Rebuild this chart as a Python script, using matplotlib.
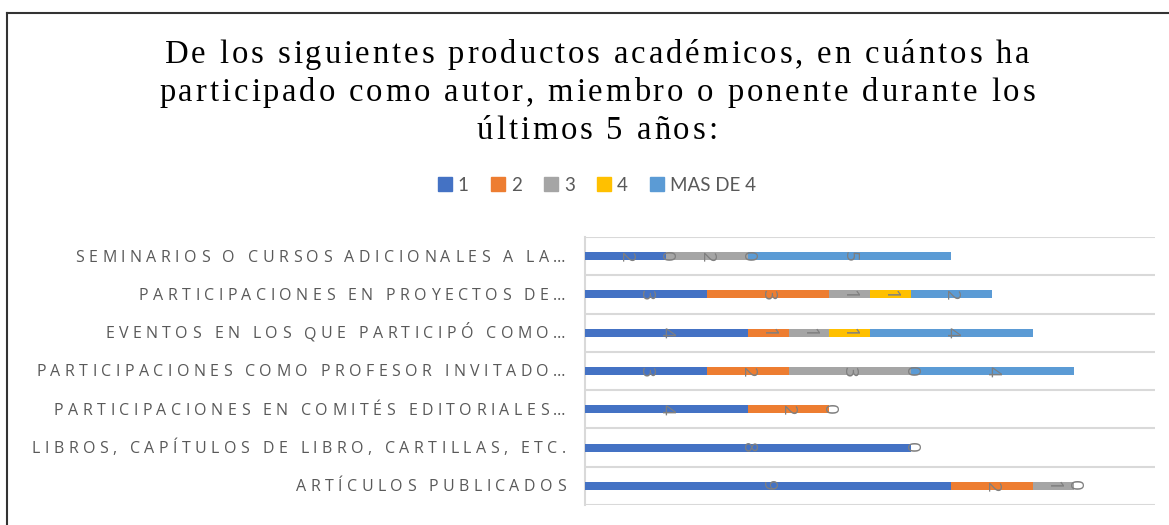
import matplotlib
matplotlib.use("Agg")
import matplotlib.pyplot as plt
from matplotlib.lines import Line2D
from matplotlib.font_manager import FontProperties, findfont, get_font
import numpy as np

categories = [
    "SEMINARIOS O CURSOS ADICIONALES A LA…",
    "PARTICIPACIONES EN PROYECTOS DE…",
    "EVENTOS EN LOS QUE PARTICIPÓ COMO…",
    "PARTICIPACIONES COMO PROFESOR INVITADO…",
    "PARTICIPACIONES EN COMITÉS EDITORIALES…",
    "LIBROS, CAPÍTULOS DE LIBRO, CARTILLAS, ETC.",
    "ARTÍCULOS PUBLICADOS",
]
series_names = ["1", "2", "3", "4", "MAS DE 4"]
s1 = [2, 3, 4, 3, 4, 8, 9]
s2 = [0, 3, 1, 2, 2, 0, 2]
s3 = [2, 1, 1, 3, 0, None, 1]
s4 = [0, 1, 1, 0, None, None, 0]
s5 = [5, 2, 4, 4, None, None, None]
series = [s1, s2, s3, s4, s5]
colors = ["#4472C4", "#ED7D31", "#A5A5A5", "#FFC000", "#5B9BD5"]

title_lines = [
    "De los siguientes productos académicos, en cuántos ha",
    "participado como autor, miembro o ponente durante los",
    "últimos 5 años:",
]

W, H, DPI = 1169, 525, 100
fig = plt.figure(figsize=(W / DPI, H / DPI), dpi=DPI)


def advances(s, family, size_pt):
    font = get_font(findfont(FontProperties(family=family)))
    font.set_size(size_pt, DPI)
    out = []
    for ch in s:
        g = font.load_char(ord(ch))
        out.append(g.linearHoriAdvance / 65536.0)
    return out


def tracked_text(s, x_px, y_px, family, size_pt, track_px, align="center",
                 color="black"):
    adv = advances(s, family, size_pt)
    total = sum(adv) + track_px * len(s)
    if align == "center":
        x0 = x_px - (total - track_px) / 2
    elif align == "right":
        x0 = x_px - total
    else:
        x0 = x_px
    x = x0
    for ch, a in zip(s, adv):
        if ch != " ":
            fig.text(x / W, 1 - y_px / H, ch, ha="left", va="baseline",
                     fontsize=size_pt, family=family, color=color)
        x += a + track_px


# axes
ax = fig.add_axes([585 / W, 20 / H, (1155 - 585) / W, (505 - 237) / H])
y = np.arange(len(categories))
left = np.zeros(len(categories))
for name, vals, c in zip(series_names, series, colors):
    v = np.array([np.nan if x is None else x for x in vals], dtype=float)
    w = np.nan_to_num(v)
    ax.barh(y, w, left=left, height=0.21, color=c, label=name, zorder=3)
    for i in range(len(categories)):
        if not np.isnan(v[i]):
            ax.text(left[i] + w[i] / 2, y[i], f"{int(v[i])}", rotation=270,
                    ha="center", va="center", fontsize=13.5, color="#7F7F7F",
                    family="Open Sans", zorder=4)
    left = left + w

ax.set_xlim(0, 14)
ax.set_ylim(len(categories) - 0.5, -0.5)
ax.set_yticks([])
ax.set_xticks([])
for b in np.arange(-0.5, len(categories), 1.0):
    ax.axhline(b, color="#D9D9D9", lw=1.5, zorder=1)
for s in ["top", "right", "bottom"]:
    ax.spines[s].set_visible(False)
ax.spines["left"].set_color("#D9D9D9")
ax.spines["left"].set_linewidth(1.5)

# category labels (letter-spaced), placed at each category's pixel row
LAB_FAM, LAB_SIZE = "Open Sans", 11.5
nat = sum(advances(categories[0], LAB_FAM, LAB_SIZE))
lab_track = (490 - nat) / (len(categories[0]) - 1)
fig.canvas.draw()
for i, cat in enumerate(categories):
    _, ypix = ax.transData.transform((0, y[i]))
    ypx_top = H - ypix
    tracked_text(cat, 570, ypx_top + 5.5, LAB_FAM, LAB_SIZE, lab_track,
                 align="right", color="#595959")

# title (letter-spaced serif)
T_FAM, T_SIZE = "Liberation Serif", 23.5
nat_t = sum(advances(title_lines[0], T_FAM, T_SIZE))
t_track = (865 - nat_t) / (len(title_lines[0]) - 1)
for line, base in zip(title_lines, [63, 101, 139]):
    tracked_text(line, 597, base, T_FAM, T_SIZE, t_track, align="center",
                 color="#000000")

handles = [plt.Rectangle((0, 0), 1, 1, color=c) for c in colors]
fig.legend(handles, series_names, loc="center", bbox_to_anchor=(597 / W, 1 - 185 / H),
           ncol=5, frameon=False, handlelength=0.75, handleheight=0.75,
           handletextpad=0.3, columnspacing=1.2,
           prop={"family": "Lato", "size": 13.5}, labelcolor="#595959")

fig.add_artist(Line2D([7 / W, 7 / W], [0, 1 - 13 / H], transform=fig.transFigure,
                      color="#333333", lw=1.5))
fig.add_artist(Line2D([7 / W, 1168 / W], [1 - 13 / H, 1 - 13 / H],
                      transform=fig.transFigure, color="#333333", lw=1.5))

fig.savefig("out.png", dpi=DPI)
